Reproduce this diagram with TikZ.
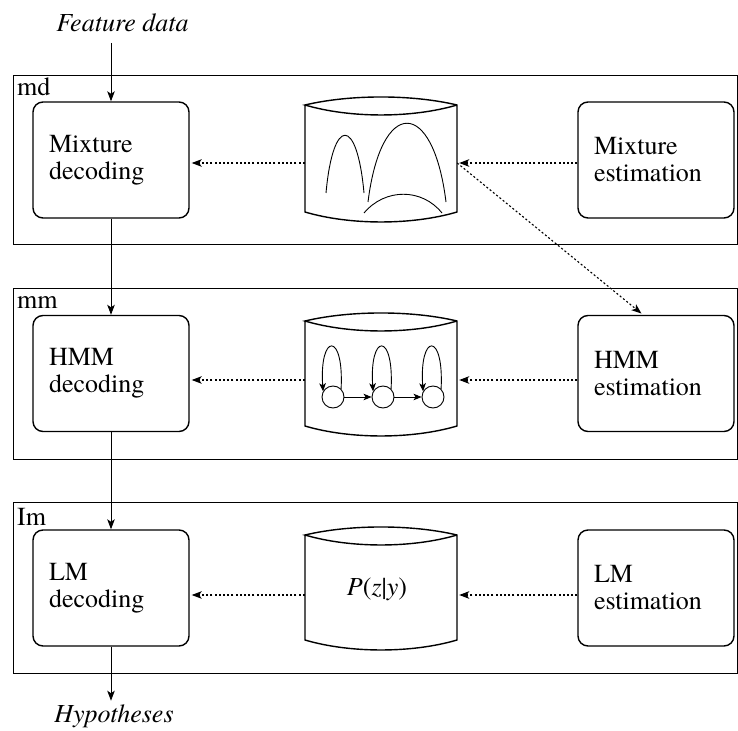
\documentclass[tikz,border=0pt]{standalone}
\usepackage{fontspec}
\setmainfont{texgyretermes-regular.otf}[ItalicFont=texgyretermes-italic.otf,BoldFont=texgyretermes-bold.otf]
\usetikzlibrary{arrows.meta,calc}
\newcommand\drawcyl[3]{%
  \draw[cylline] (#1,#2) -- (#1,#3)
    .. controls (#1+45,#3+13.3) and (#1+107,#3+13.3) .. (#1+152,#3)
    -- (#1+152,#2)
    .. controls (#1+107,#2-10.7) and (#1+45,#2-10.7) .. (#1,#2)
    .. controls (#1+45,#2+13.3) and (#1+107,#2+13.3) .. (#1+152,#2);}
\begin{document}
\begin{tikzpicture}[x=1pt,y=-1pt,
  every node/.style={font=\fontsize{26}{27}\selectfont},
  panel/.style={line width=0.9pt},
  box/.style={draw, rounded corners=10pt, line width=1.4pt, minimum width=156pt,
    minimum height=116pt, text width=124pt, align=left, inner xsep=16pt, inner ysep=0pt},
  cylline/.style={line width=1.4pt},
  cylbox/.style={minimum width=152pt, minimum height=100pt, inner sep=0pt},
  lab/.style={anchor=base west, inner sep=0pt},
  arr/.style={-{Stealth[length=10pt,width=7.5pt,inset=2.5pt]}, line width=0.9pt},
  darr/.style={arr, line width=1.1pt, dash pattern=on 2pt off 2.2pt, shorten >=2pt},
  harr/.style={-{Stealth[length=8pt,width=6.5pt,inset=2pt]}, line width=0.9pt},
  state/.style={circle, draw, line width=0.9pt, minimum size=22pt, inner sep=0pt},
  curve/.style={line width=0.9pt}]
\useasboundingbox (0,0) rectangle (738,730);
% panels
\draw[panel] (13,75) rectangle (737,244);
\draw[panel] (13,288) rectangle (737,459);
\draw[panel] (13,502) rectangle (737,673);
\node[lab] (l1) at (17,96) {md};
\node[lab] (l2) at (17,308) {mm};
\node[lab] (l3) at (17,525) {Im};
% boxes
\node[box] (dec1) at (111,160) {Mixture\\decoding};
\node[box] (dec2) at (111,373.5) {HMM\\decoding};
\node[box] (dec3) at (111,588) {LM\\decoding};
\node[box] (est1) at (656,160) {Mixture\\estimation};
\node[box] (est2) at (656,373.5) {HMM\\estimation};
\node[box] (est3) at (656,588) {LM\\estimation};
% cylinders
\drawcyl{305}{105}{212}
\drawcyl{305}{321}{426}
\drawcyl{305}{535}{640}
\node[cylbox] (cyl1) at (381,163) {};
\node[cylbox] (cyl2) at (381,380) {};
\node[cylbox] (cyl3) at (381,595) {};
% mixture curves
\draw[curve] (326,193) .. controls (333,116) and (357,116) .. (364,193);
\draw[curve] (368,202) .. controls (381,97) and (433,97) .. (446,202);
\draw[curve] (364,213) .. controls (385,188) and (422,188) .. (442,213);
% HMM
\node[state] (s1) at (333,397) {};
\node[state] (s2) at (383,397) {};
\node[state] (s3) at (433,397) {};
\foreach \s in {s1,s2,s3}{
  \draw[harr] (\s.45) .. controls ($(\s.45)+(3,-58)$) and ($(\s.150)+(-4,-58)$) .. (\s.150);
}
\draw[harr] (s1.east) -- (s2.west);
\draw[harr] (s2.east) -- (s3.west);
% P(z|y)
\node[anchor=base, inner sep=0pt] (pzy) at (377,595) {\textit{P}(\textit{z}|\textit{y})};
% dotted arrows
\draw[darr] (cyl1.west) -- (cyl1.west -| dec1.east);
\draw[darr] (est1.west |- cyl1.east) -- (cyl1.east);
\draw[darr] (cyl2.west) -- (cyl2.west -| dec2.east);
\draw[darr] (est2.west |- cyl2.east) -- (cyl2.east);
\draw[darr] (cyl3.west) -- (cyl3.west -| dec3.east);
\draw[darr] (est3.west |- cyl3.east) -- (cyl3.east);
\coordinate (dtarget) at ([xshift=-13pt]est2.north);
\draw[darr] (cyl1.east) -- (dtarget);
% input / output
\node[anchor=base] (fd) at (122.5,32) {\itshape Feature data};
\node[anchor=base] (hyp) at (114,722) {\itshape Hypotheses};
\draw[arr] (fd.south -| dec1.north) ++(0,7) -- (dec1.north);
\draw[arr] (dec1.south) -- (dec2.north);
\draw[arr] (dec2.south) -- (dec3.north);
\draw[arr] (dec3.south) -- (dec3.south |- hyp.north);
\end{tikzpicture}
\end{document}
